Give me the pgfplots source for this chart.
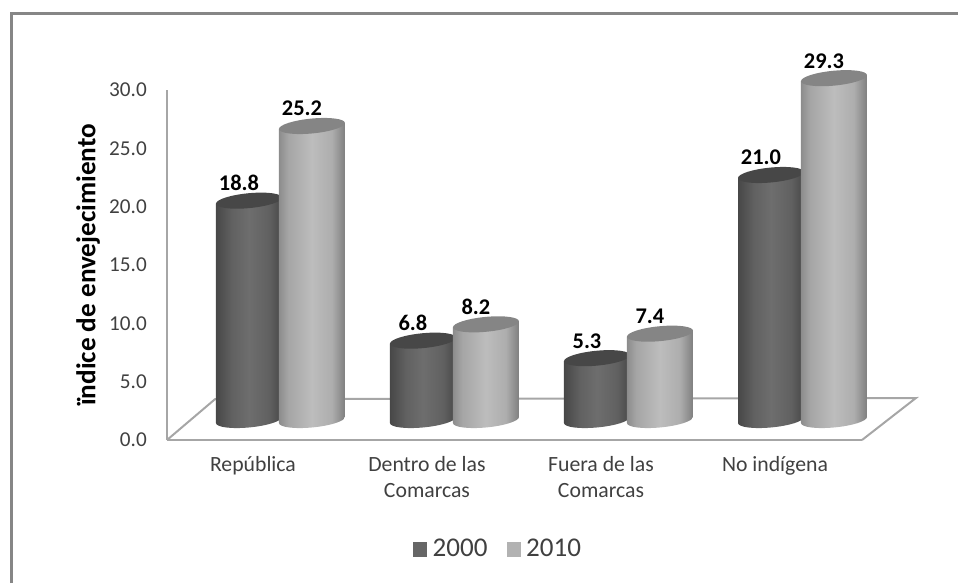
\documentclass[border=0pt]{standalone}
\usepackage{fontspec}
\setmainfont{Carlito}
\usepackage{pgfplots}
\pgfplotsset{compat=1.18}
\definecolor{axisgray}{HTML}{A6A6A6}
\definecolor{framegray}{HTML}{868686}
\definecolor{labelgray}{HTML}{404040}
\definecolor{legdark}{HTML}{666666}
\definecolor{leglight}{HTML}{B2B2B2}
\pgfdeclarehorizontalshading{cyldark}{100bp}{color(0bp)=(black!72); color(25bp)=(black!72); color(37bp)=(black!62); color(50bp)=(black!57); color(65bp)=(black!62); color(75bp)=(black!72); color(100bp)=(black!72)}
\pgfdeclarehorizontalshading{cyllight}{100bp}{color(0bp)=(black!45); color(25bp)=(black!45); color(32bp)=(black!35); color(50bp)=(black!26); color(65bp)=(black!32); color(75bp)=(black!50); color(100bp)=(black!50)}
% one cylinder, hanging down from the data point to y=0 (8.75pt per y unit)
\newcommand\cylmark[3]{%
\pgfdeclareplotmark{#1}{%
  \pgfmathsetmacro\h{\rawy*8.75}%
  \path[x=1pt,y=1pt,draw=none,shade,shading=#2] (-24.75,-2.25) -- (-24.75,{-\h-2.25})
    .. controls (-24.75,{-\h-5.34}) and (-13.67,{-\h-6.84}) .. (0,{-\h-5.6})
    .. controls (13.67,{-\h-4.36}) and (24.75,{-\h-0.84}) .. (24.75,{-\h+2.25})
    -- (24.75,2.25) -- cycle;
  \path[x=1pt,y=1pt,draw=none,fill=#3] (-24.75,-2.25)
    .. controls (-24.75,0.84) and (-13.67,4.36) .. (0,5.6)
    .. controls (13.67,6.84) and (24.75,5.34) .. (24.75,2.25)
    .. controls (24.75,-0.84) and (13.67,-4.36) .. (0,-5.6)
    .. controls (-13.67,-6.84) and (-24.75,-5.34) .. (-24.75,-2.25) -- cycle;
}}
\cylmark{cyl2000}{cyldark}{black!72}
\cylmark{cyl2010}{cyllight}{black!48}
\pgfplotsset{cyl/.style={only marks,
    visualization depends on={y \as \rawy},
    nodes near coords={\pgfmathprintnumber[fixed,fixed zerofill,precision=1,assume math mode=true]{\pgfplotspointmeta}},
    nodes near coords style={font=\fontsize{16.8pt}{18pt}\selectfont\bfseries,text=black,anchor=center,xshift=-7.5pt,yshift=13pt}}}
\begin{document}
\begin{tikzpicture}
\path[use as bounding box] (0,0) rectangle (718.5pt,437.25pt);
\draw[framegray,line width=1.8pt] (8.5pt,0) -- (8.5pt,427pt) -- (718.5pt,427pt);
\begin{axis}[
    at={(125.25pt,107.25pt)}, anchor=south west,
    scale only axis, width=521.25pt, height=262.5pt,
    xmin=-0.494, xmax=3.5, ymin=0, ymax=30,
    clip=false,
    axis x line=bottom, axis y line=left,
    axis line style={-,axisgray,line width=1.5pt},
    tick style={draw=none},
    xtick={0,1,2,3},
    xticklabels={República,{Dentro de las\\Comarcas},{Fuera de las\\Comarcas},No indígena},
    xticklabel style={align=center,font=\fontsize{16.3pt}{19.5pt}\selectfont,text=labelgray,yshift=-6.5pt},
    ytick={0,5,...,30},
    yticklabel style={/pgf/number format/fixed,/pgf/number format/fixed zerofill,/pgf/number format/precision=1,/pgf/number format/assume math mode=true,font=\fontsize{15.9pt}{18pt}\selectfont,text=labelgray,xshift=-9.5pt},
    ylabel={ïndice de envejecimiento},
    ylabel style={font=\fontsize{20.4pt}{22pt}\selectfont\bfseries,text=black,yshift=0pt},
    legend style={at={(0.477,-0.312)},anchor=center,draw=none,fill=none,legend columns=2,
        font=\fontsize{20.3pt}{22pt}\selectfont,text=labelgray,
        /tikz/every odd column/.append style={column sep=2.5pt},
        /tikz/every even column/.append style={column sep=12.5pt}},
    legend cell align=left,
]
\addplot[axisgray,line width=1.5pt,forget plot] coordinates {(-0.494,0) (-0.218,3.5) (3.81,3.6) (3.5,0)};
\addlegendimage{only marks,mark=square*,mark size=5pt,legdark,mark options={draw=legdark,fill=legdark}}
\addlegendentry{2000}
\addlegendimage{only marks,mark=square*,mark size=5pt,leglight,mark options={draw=leglight,fill=leglight}}
\addlegendentry{2010}
\end{axis}
\begin{axis}[
    at={(145.875pt,122.25pt)}, anchor=south west,
    scale only axis, width=521.25pt, height=262.5pt,
    xmin=-0.494, xmax=3.5, ymin=0, ymax=30,
    clip=false, hide axis,
]
\addplot[cyl,mark=cyl2000] coordinates {(-0.181,18.8) (0.819,6.8) (1.819,5.3) (2.819,21.0)};
\addplot[cyl,mark=cyl2010] coordinates {(0.181,25.2) (1.181,8.2) (2.181,7.4) (3.181,29.3)};
\end{axis}
\end{tikzpicture}
\end{document}
